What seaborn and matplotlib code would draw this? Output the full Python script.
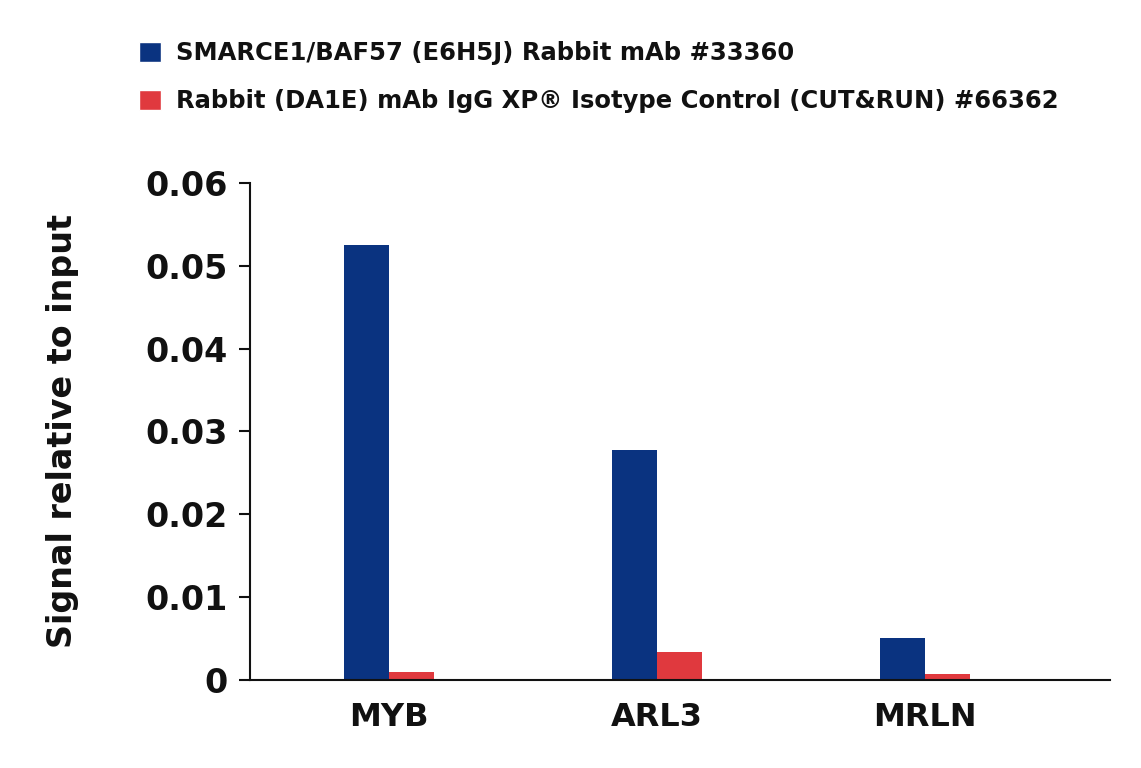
import pandas as pd
import seaborn as sns
import matplotlib.pyplot as plt
from matplotlib.patches import Patch

genes = ["MYB", "ARL3", "MRLN"]
series = ["SMARCE1/BAF57 (E6H5J) Rabbit mAb #33360",
          "Rabbit (DA1E) mAb IgG XP\u00ae Isotype Control (CUT&RUN) #66362"]
smarce1 = [0.0525, 0.0278, 0.0051]
igg = [0.0010, 0.0034, 0.0007]
colors = ["#0a3380", "#e0393e"]

df = pd.DataFrame({
    "gene": genes * 2,
    "antibody": [series[0]] * 3 + [series[1]] * 3,
    "signal": smarce1 + igg,
})

sns.set_style("white")
plt.rcParams['font.family'] = ['DejaVu Sans']
plt.rcParams['font.weight'] = 'bold'
plt.rcParams['text.color'] = '#111111'

fig = plt.figure(figsize=(11.41, 7.68), dpi=100)
ax = fig.add_axes([0.219, 0.1146, 0.754, 0.6472])
sns.barplot(data=df, x="gene", y="signal", hue="antibody", palette=colors,
            width=0.336, ax=ax, legend=False, saturation=1, edgecolor='none')

ax.set_ylim(0, 0.06)
ax.set_xlim(-0.519, 2.69)
ax.set_yticks([0, 0.01, 0.02, 0.03, 0.04, 0.05, 0.06])
ax.set_yticklabels(["0", "0.01", "0.02", "0.03", "0.04", "0.05", "0.06"])
ax.tick_params(axis='y', labelsize=24, length=8, width=1.5, direction='out', left=True,
               pad=8, colors='#111111')
ax.tick_params(axis='x', labelsize=23, length=0, pad=16, colors='#111111')
for lab in ax.get_xticklabels() + ax.get_yticklabels():
    lab.set_fontweight('bold')
ax.set_xlabel("")
ax.set_ylabel("Signal relative to input", fontsize=24, fontweight='bold', labelpad=48,
              color='#111111')
sns.despine(ax=ax)
ax.spines['left'].set_linewidth(1.5)
ax.spines['bottom'].set_linewidth(1.5)
ax.spines['left'].set_color('#111111')
ax.spines['bottom'].set_color('#111111')

handles = [Patch(facecolor=c) for c in colors]
fig.legend(handles, series, loc='upper left', bbox_to_anchor=(0.103, 0.975),
           frameon=False, handlelength=0.9, handleheight=0.9,
           handletextpad=0.6, labelspacing=1.0, prop={'weight': 'bold', 'size': 17.5})

plt.savefig("out.png", dpi=100)
plt.close()
